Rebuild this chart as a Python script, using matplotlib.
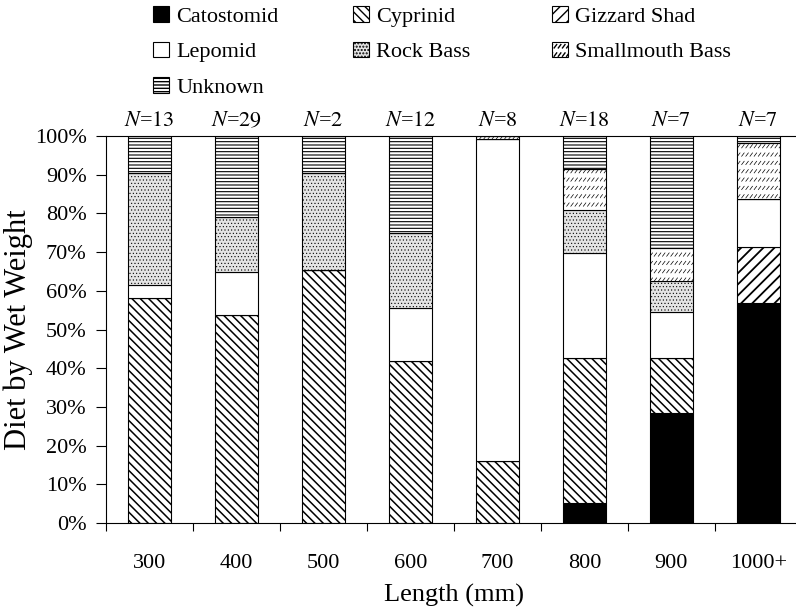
import warnings
import matplotlib
matplotlib.use("Agg")
import matplotlib.pyplot as plt
import matplotlib.hatch as mhatch
from matplotlib.path import Path
from matplotlib.patches import Patch
import numpy as np

warnings.filterwarnings('ignore')

plt.rcParams['font.family'] = ['Liberation Serif', 'DejaVu Serif']
plt.rcParams['mathtext.fontset'] = 'stix'


# rows of short slanted dashes (the smallmouth bass fill), drawn with 'z'
class DashRows(mhatch.HatchPatternBase):
    def __init__(self, hatch, density):
        self.num_rows = int(hatch.count('z') * density)
        self.num_cols = self.num_rows * 2
        self.num_vertices = self.num_rows * self.num_cols * 2

    def set_vertices_and_codes(self, vertices, codes):
        step = 1.0 / self.num_rows
        cstep = 1.0 / self.num_cols
        k = 0
        for i in range(self.num_rows):
            y0 = i * step + 0.25 * step
            for j in range(self.num_cols):
                x0 = j * cstep
                vertices[k] = (x0, y0)
                vertices[k + 1] = (x0 + 0.6 * cstep, y0 + 0.4 * step)
                codes[k] = Path.MOVETO
                codes[k + 1] = Path.LINETO
                k += 2


mhatch._hatch_types.append(DashRows)

# data (percent of diet by wet weight)
lengths = ['300', '400', '500', '600', '700', '800', '900', '1000+']
n_fish = [13, 29, 2, 12, 8, 18, 7, 7]
catostomid = [0, 0, 0, 0, 0, 5.3, 28.3, 56.9]
cyprinid = [58.1, 53.7, 65.4, 41.9, 16.1, 37.4, 14.4, 0]
gizzard_shad = [0, 0, 0, 0, 0, 0, 0, 14.4]
lepomid = [3.4, 11.1, 0, 13.6, 83.1, 27.2, 11.7, 12.4]
rock_bass = [28.9, 14.2, 25.0, 19.4, 0, 11.0, 8.1, 0]
smallmouth_bass = [0, 0, 0, 0, 0.8, 10.7, 8.6, 14.4]
unknown = [9.6, 21.0, 9.6, 25.1, 0, 8.4, 28.9, 1.9]

# name, values, face colour, hatch, hatch line width
series = [
    ('Catostomid', catostomid, 'black', '', 1.0),
    ('Cyprinid', cyprinid, 'white', '\\\\\\\\', 1.1),
    ('Gizzard Shad', gizzard_shad, 'white', '///', 1.3),
    ('Lepomid', lepomid, 'white', '', 1.0),
    ('Rock Bass', rock_bass, '#e4e4e4', '.....', 0.4),
    ('Smallmouth Bass', smallmouth_bass, 'white', 'zz', 0.5),
    ('Unknown', unknown, 'white', '-----', 0.8),
]

fig = plt.figure(figsize=(7.96, 6.13), dpi=100)
ax = fig.add_axes([0.1332, 0.1468, 0.874, 0.6313])

x = np.arange(len(lengths))
bottom = np.zeros(len(lengths))
handles = {}
for name, vals, fc, hatch, hlw in series:
    vals = np.array(vals, dtype=float)
    with plt.rc_context({'hatch.linewidth': hlw}):
        ax.bar(x, vals, 0.5, bottom=bottom, color=fc, hatch=hatch,
               edgecolor='black', linewidth=0.8)
        handles[name] = Patch(facecolor=fc, hatch=hatch, edgecolor='black',
                              linewidth=0.8)
    bottom += vals

ax.set_xlim(-0.5, 7.5)
ax.set_ylim(0, 100)
ax.set_yticks(np.arange(0, 101, 10))
ax.set_yticklabels([f'{v}%' for v in range(0, 101, 10)])
ax.set_xticks(x)
ax.set_xticklabels(lengths)
ax.set_xticks(np.arange(-0.5, 7.6, 1), minor=True)
ax.tick_params(axis='x', which='major', length=0, pad=22, labelsize=16)
ax.tick_params(axis='x', which='minor', length=6, direction='out', width=0.8)
ax.tick_params(axis='y', length=7, direction='out', pad=7, labelsize=16, width=0.8)
ax.spines['right'].set_visible(False)
for s in ax.spines.values():
    s.set_linewidth(0.8)

ax.set_ylabel('Diet by Wet Weight', fontsize=22, labelpad=1)
ax.set_xlabel('Length (mm)', fontsize=19, labelpad=8)

for xi, n in zip(x, n_fish):
    ax.text(xi, 101.3, f'$N$=${n}$', ha='center', va='bottom', fontsize=16)

# legend laid out in three columns, as in the original
columns = [['Catostomid', 'Lepomid', 'Unknown'],
           ['Cyprinid', 'Rock Bass'],
           ['Gizzard Shad', 'Smallmouth Bass']]
col_x = [153 / 796, 353 / 796, 552 / 796]
for names, cx in zip(columns, col_x):
    fig.legend([handles[k] for k in names], names, frameon=False,
               loc='upper left', bbox_to_anchor=(cx, 0.99), fontsize=16,
               borderpad=0, borderaxespad=0, handlelength=0.7,
               handleheight=0.7, handletextpad=0.35, labelspacing=0.68)

fig.savefig('out.png', dpi=100)
